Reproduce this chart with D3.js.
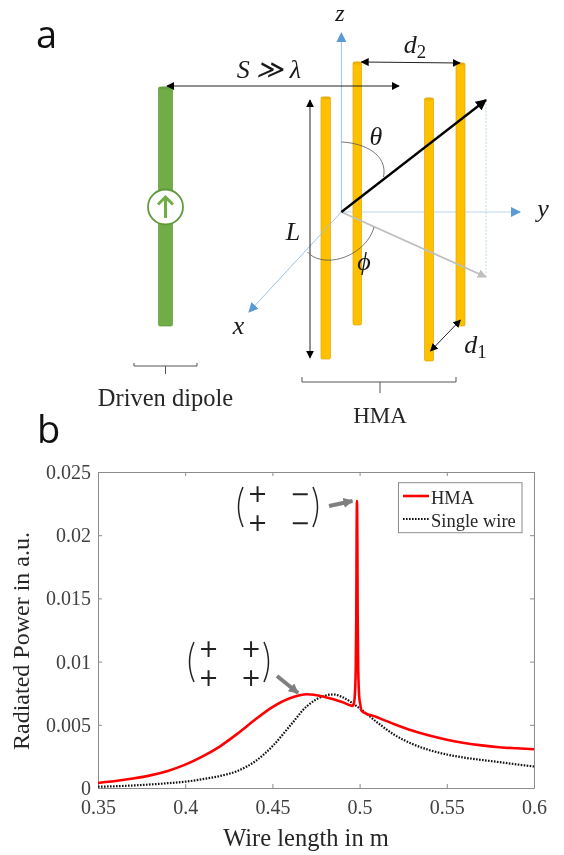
<!DOCTYPE html>
<html>
<head>
<meta charset="utf-8">
<script src="https://cdn.jsdelivr.net/npm/d3@7"></script>
<style>
  html, body { margin: 0; padding: 0; background: #fff; }
  svg { display: block; filter: blur(0.4px); }
  .serif { font-family: "Liberation Serif", serif; fill: #262626; }
  .math { font-family: "Liberation Serif", serif; font-style: italic; fill: #1a1a1a; }
</style>
</head>
<body>
<div id="chart"></div>
<script>
// chart values
const hmaX = [0.35, 0.36, 0.37, 0.38, 0.39, 0.40, 0.41, 0.42, 0.43, 0.44, 0.45, 0.46, 0.47, 0.48, 0.49, 0.496, 0.4966, 0.4972, 0.4978, 0.4981, 0.4983, 0.4985, 0.4987, 0.4989, 0.4992, 0.4998, 0.5004, 0.5012, 0.51, 0.52, 0.53, 0.54, 0.55, 0.56, 0.57, 0.58, 0.59, 0.60];
const hmaY = [0.0004, 0.00055, 0.00075, 0.0010, 0.00135, 0.00185, 0.0025, 0.0033, 0.0043, 0.0054, 0.0064, 0.0071, 0.00742, 0.0072, 0.0068, 0.0065, 0.0066, 0.0072, 0.0095, 0.0135, 0.0200, 0.0227, 0.0200, 0.0135, 0.0095, 0.0072, 0.0066, 0.0061, 0.0056, 0.00505, 0.00455, 0.00415, 0.00382, 0.00356, 0.00337, 0.00323, 0.00314, 0.00306];
const singleX = [0.35, 0.36, 0.37, 0.38, 0.39, 0.40, 0.41, 0.42, 0.43, 0.44, 0.45, 0.46, 0.47, 0.48, 0.485, 0.49, 0.50, 0.51, 0.52, 0.53, 0.54, 0.55, 0.56, 0.57, 0.58, 0.59, 0.60];
const singleY = [0.0001, 0.00014, 0.0002, 0.00028, 0.00038, 0.0005, 0.0007, 0.00095, 0.00135, 0.0021, 0.0033, 0.0049, 0.0065, 0.0073, 0.0074, 0.0072, 0.0063, 0.0052, 0.0042, 0.0035, 0.0030, 0.00265, 0.0024, 0.00222, 0.00205, 0.00187, 0.0017];
const xTicks = [0.35, 0.4, 0.45, 0.5, 0.55, 0.6];
const xTickLabels = ["0.35", "0.4", "0.45", "0.5", "0.55", "0.6"];
const yTicks = [0, 0.005, 0.01, 0.015, 0.02, 0.025];
const yTickLabels = ["0", "0.005", "0.01", "0.015", "0.02", "0.025"];
const legendNames = ["HMA", "Single wire"];

const svg = d3.select("#chart").append("svg")
  .attr("width", 564)
  .attr("height", 855);

const defs = svg.append("defs");
function addMarker(id, color, size) {
  defs.append("marker")
    .attr("id", id)
    .attr("viewBox", "0 0 10 10")
    .attr("refX", 9).attr("refY", 5)
    .attr("markerUnits", "userSpaceOnUse")
    .attr("markerWidth", size).attr("markerHeight", size)
    .attr("orient", "auto-start-reverse")
    .append("path")
    .attr("d", "M0,0L10,5L0,10Z")
    .attr("fill", color);
}
addMarker("headBlack", "#000", 8);
addMarker("headVector", "#000", 11);
addMarker("headBlue", "#5B9BD5", 10);
addMarker("headGrey", "#BFBFBF", 9);
addMarker("headDark", "#7F7F7F", 10);

function arrow(x1, y1, x2, y2, color, width, marker, both) {
  return svg.append("line")
    .attr("x1", x1).attr("y1", y1).attr("x2", x2).attr("y2", y2)
    .attr("stroke", color).attr("stroke-width", width)
    .attr("marker-end", `url(#${marker})`)
    .attr("marker-start", both ? `url(#${marker})` : null);
}

function wire(x, w, top, bottom, fill, edge) {
  svg.append("rect")
    .attr("x", x).attr("y", top).attr("width", w).attr("height", bottom - top)
    .attr("rx", 1.5)
    .attr("fill", fill).attr("stroke", edge).attr("stroke-width", 0.7);
  svg.append("ellipse")
    .attr("cx", x + w / 2).attr("cy", top + 1).attr("rx", w / 2).attr("ry", 1.5)
    .attr("fill", edge).attr("opacity", 0.6);
}

function label(x, y, str, size, cls, anchor) {
  return svg.append("text")
    .attr("class", cls)
    .attr("x", x).attr("y", y)
    .attr("text-anchor", anchor || "middle")
    .attr("font-size", size)
    .text(str);
}

// symbol with a subscript
function subLabel(x, y, str, sub, size) {
  const t = label(x, y, str, size, "math");
  t.append("tspan").attr("dy", 5).attr("font-size", size * 0.72).attr("font-style", "normal").text(sub);
}

// panel a
svg.append("text")
  .attr("x", 36).attr("y", 48)
  .attr("font-family", "Open Sans, sans-serif")
  .attr("font-size", 38)
  .attr("fill", "#111")
  .text("a");

// axes behind the wires
arrow(341.4, 212, 341.4, 33, "#9DC3E6", 1, "headBlue");
arrow(341.4, 212, 520, 212, "#BDD7EE", 1.2, "headBlue");

wire(353, 8.5, 62, 325, "#FFC000", "#E0A800");
wire(456, 9, 63, 326, "#FFC000", "#E0A800");
wire(158.5, 14, 87, 326, "#70AD47", "#5F9A3A");
wire(321, 9.5, 97, 359, "#FFC000", "#E0A800");
wire(424.5, 9, 98, 361, "#FFC000", "#E0A800");

arrow(341.4, 212, 249, 312, "#9DC3E6", 1, "headBlue");

// current source on the green dipole
svg.append("circle")
  .attr("cx", 165.5).attr("cy", 207).attr("r", 17.5)
  .attr("fill", "#fff").attr("stroke", "#5F9A3A").attr("stroke-width", 1.8);
svg.append("path")
  .attr("d", "M165.5,218V197M158,204.5L165.5,197L173,204.5")
  .attr("fill", "none").attr("stroke", "#70AD47").attr("stroke-width", 3);

// dimension arrows
arrow(167, 86, 399, 86, "#222", 1, "headBlack", true);
arrow(361.5, 62, 460, 63, "#222", 1, "headBlack", true);
arrow(310, 100, 310, 358, "#222", 1, "headBlack", true);
arrow(430.6, 351, 460.4, 320, "#222", 1, "headBlack", true);

// direction vector and its projection
svg.append("line")
  .attr("x1", 486).attr("y1", 100).attr("x2", 486).attr("y2", 277)
  .attr("stroke", "#BDD7EE").attr("stroke-width", 1).attr("stroke-dasharray", "2,1.5");
arrow(341.4, 212, 486, 277, "#BFBFBF", 1.8, "headGrey");
arrow(341.4, 212, 486, 100, "#000", 2.3, "headVector");

// angles
svg.append("path")
  .attr("d", "M341.4,142C365,143 388,155 383.5,177")
  .attr("fill", "none").attr("stroke", "#555").attr("stroke-width", 0.8);
svg.append("path")
  .attr("d", "M374,227C369,247 345,262 325,260C316,259 311,256 307.5,252")
  .attr("fill", "none").attr("stroke", "#555").attr("stroke-width", 0.8);

// brackets
svg.append("path")
  .attr("d", "M134,363V366H197V363M165.5,366V374")
  .attr("fill", "none").attr("stroke", "#555").attr("stroke-width", 1);
svg.append("path")
  .attr("d", "M302,377V382H456V377M380,382V393")
  .attr("fill", "none").attr("stroke", "#555").attr("stroke-width", 1);

label(340, 21, "z", 24, "math");
label(269, 78, "S ≫ λ", 26, "math");
subLabel(415, 53, "d", "2", 26);
label(376, 145, "θ", 26, "math");
label(293, 240, "L", 26, "math");
label(364, 270, "ϕ", 26, "math");
label(543, 217, "y", 26, "math");
label(238.5, 334, "x", 26, "math");
subLabel(475.5, 353, "d", "1", 26);

label(165.5, 406, "Driven dipole", 24.5, "serif");
label(380, 423, "HMA", 23, "serif");

// panel b
svg.append("text")
  .attr("x", 37).attr("y", 443)
  .attr("font-family", "Open Sans, sans-serif")
  .attr("font-size", 38)
  .attr("fill", "#111")
  .text("b");

const plot = { left: 98, right: 534, top: 472, bottom: 788 };
const x = d3.scaleLinear().domain([0.35, 0.6]).range([plot.left, plot.right]);
const y = d3.scaleLinear().domain([0, 0.025]).range([plot.bottom, plot.top]);

function styleAxis(g) {
  g.selectAll("path,line").attr("stroke", "#8c8c8c");
  g.selectAll("text")
    .attr("font-family", "Liberation Serif, serif")
    .attr("font-size", 20)
    .attr("fill", "#404040");
}

svg.append("g")
  .attr("transform", `translate(0,${plot.bottom})`)
  .call(d3.axisBottom(x).tickValues(xTicks).tickSize(-4).tickSizeOuter(0).tickPadding(12)
    .tickFormat((d, i) => xTickLabels[i]))
  .call(styleAxis);
svg.append("g")
  .attr("transform", `translate(${plot.left},0)`)
  .call(d3.axisLeft(y).tickValues(yTicks).tickSize(-4).tickSizeOuter(0).tickPadding(7)
    .tickFormat((d, i) => yTickLabels[i]))
  .call(styleAxis);
// mirrored top and right edges
svg.append("g")
  .attr("transform", `translate(0,${plot.top})`)
  .call(d3.axisTop(x).tickValues(xTicks).tickSize(-4).tickSizeOuter(0).tickFormat(""))
  .call(styleAxis);
svg.append("g")
  .attr("transform", `translate(${plot.right},0)`)
  .call(d3.axisRight(y).tickValues(yTicks).tickSize(-4).tickSizeOuter(0).tickFormat(""))
  .call(styleAxis);

const line = d3.line().x(d => x(d[0])).y(d => y(d[1])).curve(d3.curveMonotoneX);

svg.append("path")
  .datum(d3.zip(singleX, singleY))
  .attr("d", line)
  .attr("fill", "none")
  .attr("stroke", "#111")
  .attr("stroke-width", 2.2)
  .attr("stroke-dasharray", "1.6,1.4");
svg.append("path")
  .datum(d3.zip(hmaX, hmaY))
  .attr("d", line)
  .attr("fill", "none")
  .attr("stroke", "#FF0000")
  .attr("stroke-width", 2.6);

// axis titles
label(306, 846, "Wire length in m", 24.5, "serif");
svg.append("text")
  .attr("class", "serif")
  .attr("transform", "translate(29,641) rotate(-90)")
  .attr("text-anchor", "middle")
  .attr("font-size", 24)
  .text("Radiated Power in a.u.");

// legend
svg.append("rect")
  .attr("x", 398.5).attr("y", 482.7).attr("width", 123.5).attr("height", 50)
  .attr("fill", "#fff").attr("stroke", "#8c8c8c").attr("stroke-width", 1);
svg.append("line")
  .attr("x1", 403).attr("x2", 429).attr("y1", 496).attr("y2", 496)
  .attr("stroke", "#FF0000").attr("stroke-width", 2.6);
svg.append("line")
  .attr("x1", 403).attr("x2", 429).attr("y1", 519).attr("y2", 519)
  .attr("stroke", "#111").attr("stroke-width", 2.2).attr("stroke-dasharray", "1.6,1.4");
label(431, 504, legendNames[0], 18.5, "serif", "start");
label(431, 527, legendNames[1], 18.5, "serif", "start");

// mode matrices with their arrows
function matrix(left, right, top, bottom, signs) {
  const pad = 6;
  svg.append("path")
    .attr("d", `M${left + pad},${top}Q${left - pad / 2},${(top + bottom) / 2} ${left + pad},${bottom}`)
    .attr("fill", "none").attr("stroke", "#222").attr("stroke-width", 1.5);
  svg.append("path")
    .attr("d", `M${right - pad},${top}Q${right + pad / 2},${(top + bottom) / 2} ${right - pad},${bottom}`)
    .attr("fill", "none").attr("stroke", "#222").attr("stroke-width", 1.5);
  const c1 = left + (right - left) * 0.25;
  const c2 = left + (right - left) * 0.77;
  [[c1, top + 14.5], [c2, top + 14.5], [c1, bottom + 3.5], [c2, bottom + 3.5]].forEach((p, i) => {
    svg.append("text")
      .attr("x", p[0]).attr("y", p[1])
      .attr("text-anchor", "middle")
      .attr("font-family", "DejaVu Sans, sans-serif")
      .attr("font-size", 24)
      .attr("fill", "#222")
      .text(signs[i]);
  });
}
matrix(237, 319, 487, 527, ["+", "−", "+", "−"]);
matrix(188, 270, 642, 682, ["+", "+", "+", "+"]);
arrow(329, 506, 352.5, 501, "#7F7F7F", 4, "headDark");
arrow(277, 676, 298, 693, "#7F7F7F", 4, "headDark");
</script>
</body>
</html>
